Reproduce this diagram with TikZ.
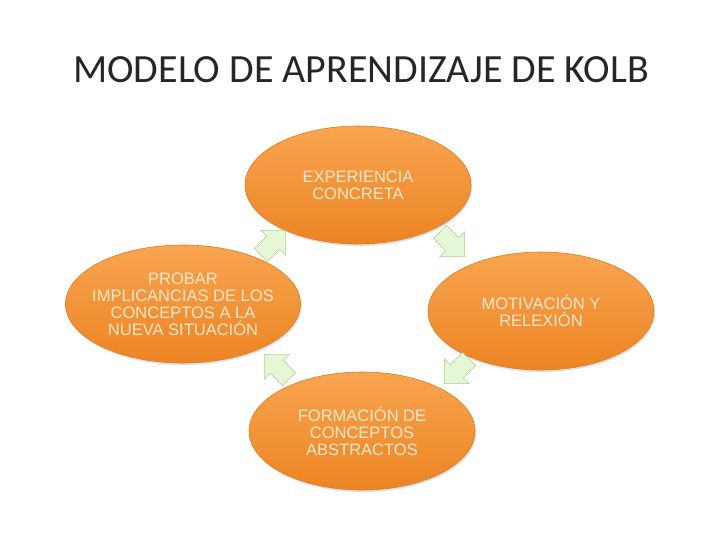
\documentclass[tikz,border=0pt]{standalone}
\usepackage{fontspec}
\setmainfont{Liberation Sans}
\newfontfamily\titlefont{Carlito}
\usetikzlibrary{shapes.geometric,shapes.arrows,shadows}
\definecolor{orA}{HTML}{F8A550}
\definecolor{orB}{HTML}{EC8423}
\definecolor{orE}{HTML}{E07A1C}
\definecolor{txt}{HTML}{FCE8CC}
\definecolor{grF}{HTML}{E6F7D6}
\definecolor{grD}{HTML}{A9CF8E}
\tikzset{
  stage/.style={ellipse, draw=orE, line width=0.6pt, top color=orA, bottom color=orB,
    minimum width=226pt, minimum height=118pt, inner sep=0pt,
    drop shadow={opacity=0.25, shadow xshift=1pt, shadow yshift=-2pt}},
  stagetext/.style={align=center, text=txt, inner sep=0pt, font=\fontsize{16.5}{17}\selectfont},
  flow/.style={single arrow, draw=grD, fill=grF, line width=0.6pt, minimum height=35pt,
    minimum width=35pt, single arrow head extend=7pt, inner sep=7.5pt}
}
\begin{document}
\begin{tikzpicture}[x=1pt,y=-1pt]
\useasboundingbox (0,0) rectangle (728,546);
\node[anchor=base west, font=\titlefont\fontsize{40}{44}\selectfont, text=black!85, inner sep=0pt] (title) at (73,82) {MODELO DE APRENDIZAJE DE KOLB};
\node[stage] (top) at (358,185) {};
\node[stagetext] (ttop) at (top) {EXPERIENCIA\\CONCRETA};
\node[stage] (right) at (541,311) {};
\node[stagetext] (tright) at (right) {MOTIVACIÓN Y\\RELEXIÓN};
\node[stage] (bottom) at (362,431) {};
\node[stagetext] (tbottom) at (bottom) {FORMACIÓN DE\\CONCEPTOS\\ABSTRACTOS};
\node[stage, minimum width=235pt] (left) at (183,304) {};
\node[stagetext] (tleft) at (left) {PROBAR\\IMPLICANCIAS DE LOS\\CONCEPTOS A LA\\NUEVA SITUACIÓN};
\node[flow, rotate=45] (a1) at (270,246) {};
\node[flow, rotate=-45] (a2) at (449,241) {};
\node[flow, rotate=-135] (a3) at (460,368) {};
\node[flow, rotate=135] (a4) at (280,370) {};
\end{tikzpicture}
\end{document}
